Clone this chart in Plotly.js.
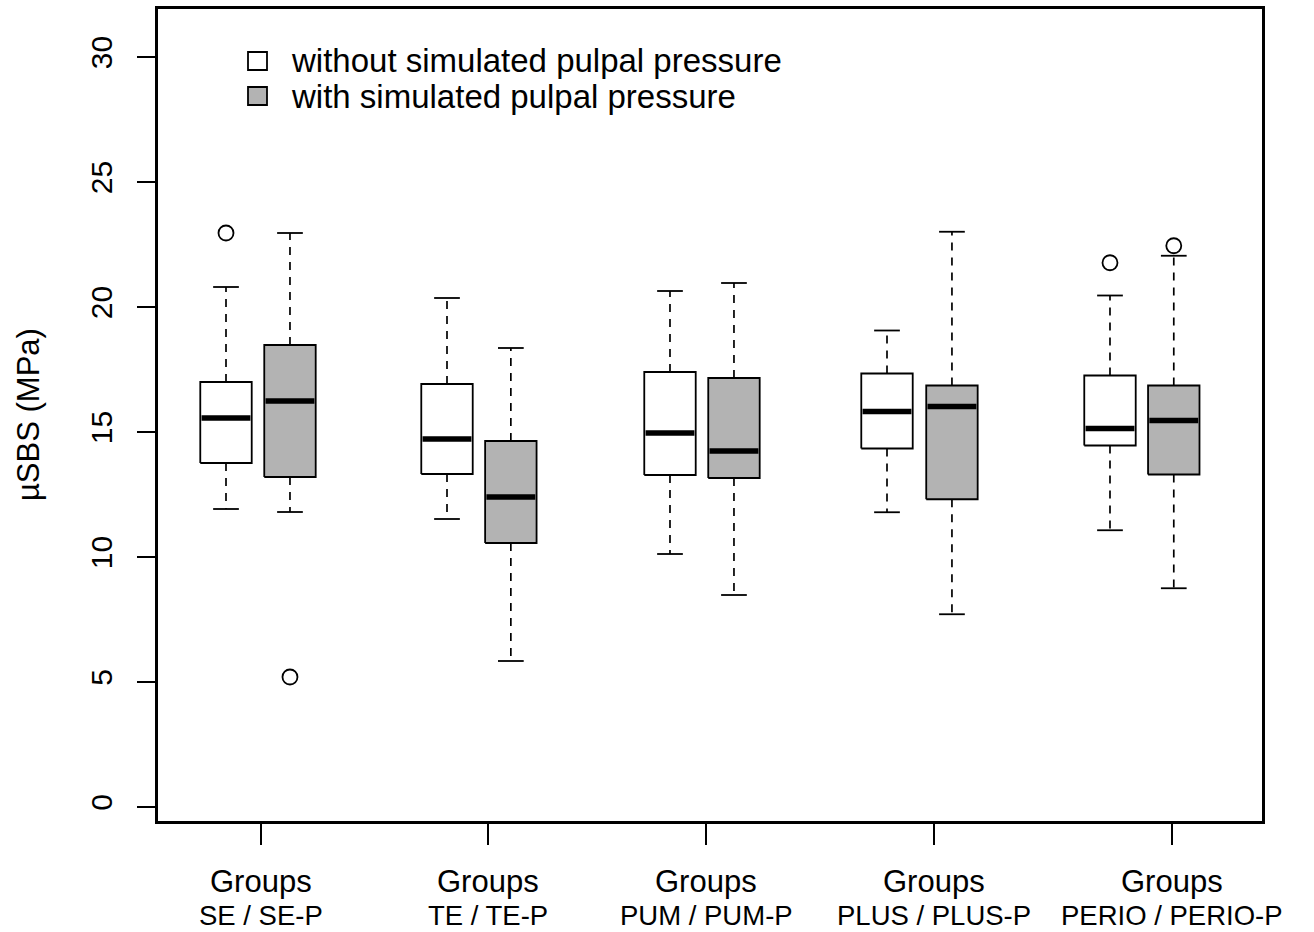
<!DOCTYPE html>
<html>
<head>
<meta charset="utf-8">
<script src="https://cdn.plot.ly/plotly-3.0.1.min.js"></script>
<style>html,body{margin:0;padding:0;background:#fff;}#chart{width:1314px;height:932px;}</style>
</head>
<body>
<div id="chart"></div>
<script>
// ---- data ----
const groups = ['SE / SE-P', 'TE / TE-P', 'PUM / PUM-P', 'PLUS / PLUS-P', 'PERIO / PERIO-P'];
const tickPos = [1.544, 5.075, 8.465, 12.01, 15.71];
const seriesNames = ['without simulated pulpal pressure', 'with simulated pulpal pressure'];

const posWithout = [1, 4.437, 7.905, 11.28, 14.748];
const loWithout  = [11.92, 11.52, 10.12, 11.79, 11.07];
const q1Without  = [13.76, 13.32, 13.28, 14.34, 14.46];
const medWithout = [15.56, 14.72, 14.96, 15.82, 15.14];
const q3Without  = [17.00, 16.92, 17.40, 17.34, 17.26];
const hiWithout  = [20.80, 20.36, 20.64, 19.06, 20.46];
const outWithout = [[22.96], [], [], [], [21.77]];

const posWith = [1.995, 5.43, 8.9, 12.29, 15.74];
const loWith  = [11.80, 5.84, 8.48, 7.71, 8.75];
const q1With  = [13.20, 10.56, 13.16, 12.31, 13.30];
const medWith = [16.24, 12.40, 14.24, 16.02, 15.46];
const q3With  = [18.48, 14.64, 17.16, 16.86, 16.86];
const hiWith  = [22.96, 18.36, 20.96, 23.01, 22.05];
const outWith = [[5.2], [], [], [], [22.45]];

const yTicks = [0, 5, 10, 15, 20, 25, 30];

// ---- styling ----
const FONT = 'Liberation Sans, Arial, Helvetica, sans-serif';
const HALF = 0.4, CAP = 0.2;
const series = [
  {pos: posWithout, lo: loWithout, q1: q1Without, med: medWithout, q3: q3Without, hi: hiWithout, out: outWithout, fill: '#ffffff'},
  {pos: posWith, lo: loWith, q1: q1With, med: medWith, q3: q3With, hi: hiWith, out: outWith, fill: '#b3b3b3'}
];

const traces = [];
// whiskers (dashed)
const wx = [], wy = [];
series.forEach(s => s.pos.forEach((p, i) => {
  wx.push(p, p, null, p, p, null);
  wy.push(s.q3[i], s.hi[i], null, s.q1[i], s.lo[i], null);
}));
traces.push({type: 'scatter', mode: 'lines', x: wx, y: wy, line: {color: '#000', width: 1.7, dash: '8px,7px'}, hoverinfo: 'skip', showlegend: false});
// caps
const cx = [], cy = [];
series.forEach(s => s.pos.forEach((p, i) => {
  cx.push(p - CAP, p + CAP, null, p - CAP, p + CAP, null);
  cy.push(s.hi[i], s.hi[i], null, s.lo[i], s.lo[i], null);
}));
traces.push({type: 'scatter', mode: 'lines', x: cx, y: cy, line: {color: '#000', width: 1.8}, hoverinfo: 'skip', showlegend: false});
// boxes
series.forEach((s, k) => s.pos.forEach((p, i) => {
  traces.push({type: 'scatter', mode: 'lines', fill: 'toself', fillcolor: s.fill,
    x: [p - HALF, p + HALF, p + HALF, p - HALF, p - HALF],
    y: [s.q1[i], s.q1[i], s.q3[i], s.q3[i], s.q1[i]],
    line: {color: '#000', width: 1.8}, name: seriesNames[k] + ' ' + groups[i], showlegend: false, hoverinfo: 'skip'});
}));
// medians
const mx = [], my = [];
series.forEach(s => s.pos.forEach((p, i) => {
  mx.push(p - HALF + 0.02, p + HALF - 0.02, null);
  my.push(s.med[i], s.med[i], null);
}));
traces.push({type: 'scatter', mode: 'lines', x: mx, y: my, line: {color: '#000', width: 5.5}, hoverinfo: 'skip', showlegend: false});
// outliers
const ox = [], oy = [];
series.forEach(s => s.pos.forEach((p, i) => s.out[i].forEach(v => { ox.push(p); oy.push(v); })));
traces.push({type: 'scatter', mode: 'markers', x: ox, y: oy,
  marker: {symbol: 'circle-open', size: 15, color: '#000', line: {width: 1.8, color: '#000'}}, hoverinfo: 'skip', showlegend: false});

// ---- layout ----
const L = 158, R = 52, T = 9, B = 111, W = 1314, H = 932;
const PW = W - L - R, PH = H - T - B;
const px = v => (v - L) / PW;           // page px -> paper x
const py = v => (H - B - v) / PH;       // page px -> paper y

const annotations = [];
groups.forEach((g, i) => {
  annotations.push({xref: 'x', yref: 'paper', x: tickPos[i], y: py(881), text: 'Groups', showarrow: false,
    xanchor: 'center', yanchor: 'middle', font: {family: FONT, size: 31, color: '#000'}});
  annotations.push({xref: 'x', yref: 'paper', x: tickPos[i], y: py(915), text: g, showarrow: false,
    xanchor: 'center', yanchor: 'middle', font: {family: FONT, size: 27.5, color: '#000'}});
});
annotations.push({xref: 'paper', yref: 'paper', x: px(28), y: py(415), text: 'µSBS (MPa)', textangle: -90, showarrow: false,
  xanchor: 'center', yanchor: 'middle', font: {family: FONT, size: 31, color: '#000'}});
annotations.push({xref: 'paper', yref: 'paper', x: px(290), y: py(60), text: seriesNames[0], showarrow: false,
  xanchor: 'left', yanchor: 'middle', borderpad: 0, font: {family: FONT, size: 33, color: '#000'}});
annotations.push({xref: 'paper', yref: 'paper', x: px(290), y: py(97), text: seriesNames[1], showarrow: false,
  xanchor: 'left', yanchor: 'middle', borderpad: 0, font: {family: FONT, size: 33, color: '#000'}});

const shapes = [
  {type: 'rect', xref: 'paper', yref: 'paper', x0: px(248), x1: px(267), y0: py(70), y1: py(52), line: {color: '#000', width: 1.8}, fillcolor: series[0].fill},
  {type: 'rect', xref: 'paper', yref: 'paper', x0: px(248), x1: px(267), y0: py(105), y1: py(87), line: {color: '#000', width: 1.8}, fillcolor: series[1].fill}
];

const layout = {
  width: W, height: H,
  margin: {l: L, r: R, t: T, b: B, pad: 0},
  paper_bgcolor: '#fff', plot_bgcolor: '#fff',
  showlegend: false,
  font: {family: FONT, color: '#000'},
  xaxis: {range: [-0.0575, 17.112], showgrid: false, zeroline: false, showline: true, mirror: true,
    linecolor: '#000', linewidth: 3, ticks: 'outside', ticklen: 21, tickwidth: 1.8, tickcolor: '#000',
    tickvals: tickPos, showticklabels: false, fixedrange: true},
  yaxis: {range: [-0.56, 31.92], showgrid: false, zeroline: false, showline: true, mirror: true,
    linecolor: '#000', linewidth: 3, ticks: 'outside', ticklen: 18, tickwidth: 1.8, tickcolor: '#000',
    tickvals: yTicks, ticktext: yTicks.map(String), tickangle: -90, ticklabelstandoff: 13,
    tickfont: {family: FONT, size: 30, color: '#000'}, fixedrange: true},
  annotations: annotations,
  shapes: shapes
};

Plotly.newPlot('chart', traces, layout, {staticPlot: true, displayModeBar: false});
</script>
</body>
</html>
